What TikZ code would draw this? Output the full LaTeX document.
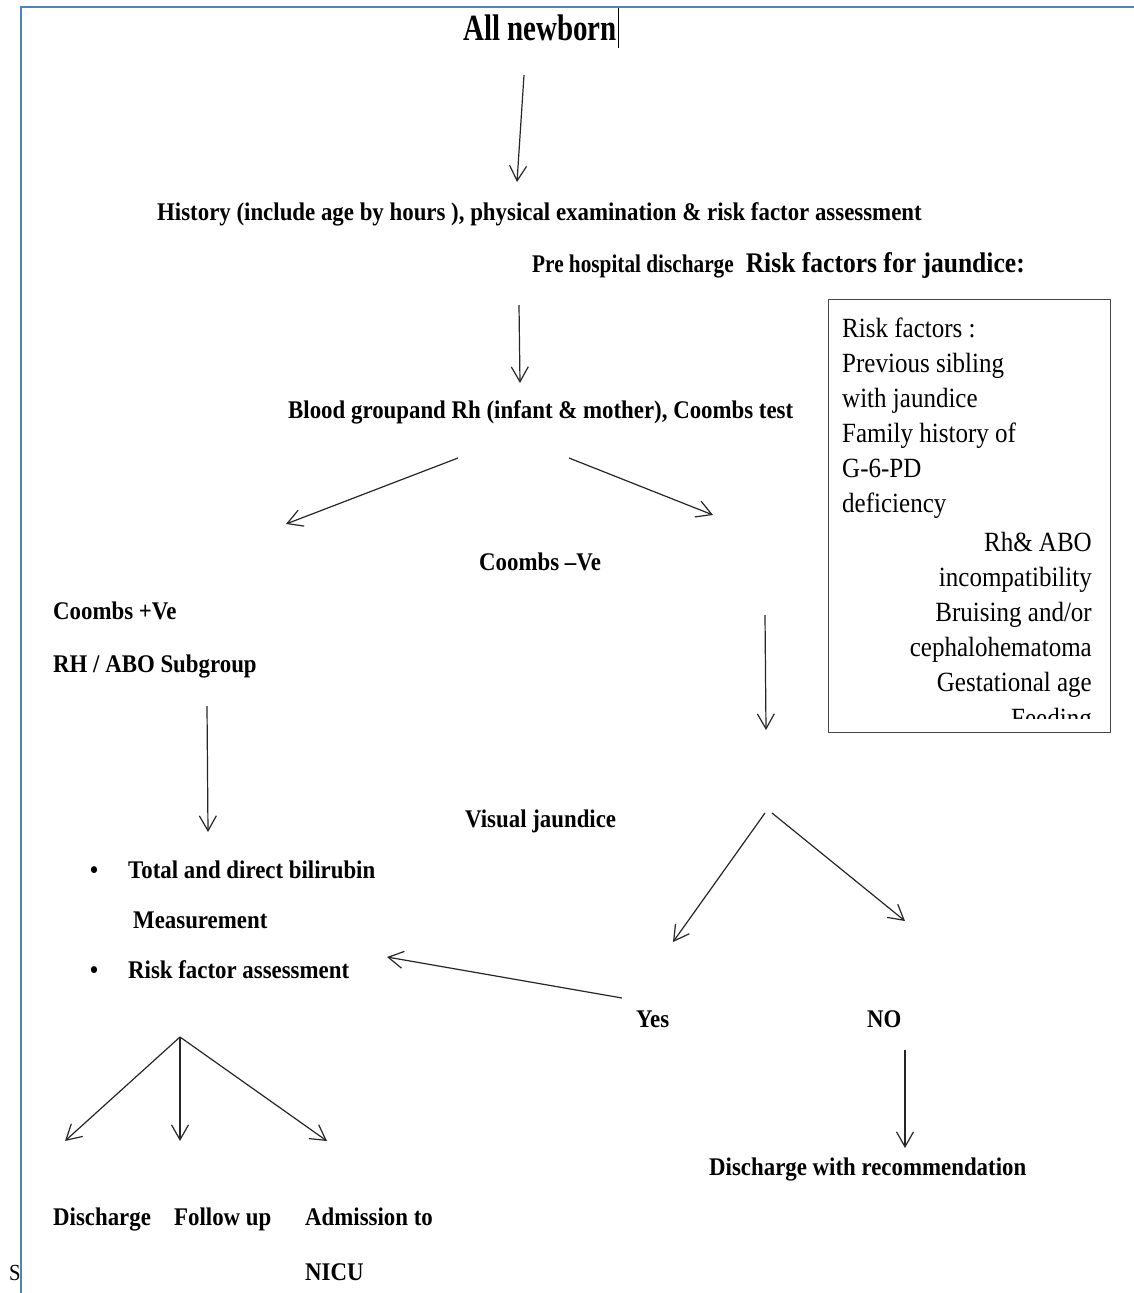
\documentclass[tikz,border=0pt]{standalone}
\usepackage{fontspec}
\setmainfont{Liberation Serif}[FakeStretch=0.9]
\usetikzlibrary{arrows.meta}
\definecolor{framebl}{RGB}{79,129,189}
\definecolor{boxgray}{RGB}{70,70,70}

\begin{document}
\begin{tikzpicture}[x=1pt,y=-1pt,
    txt/.style={inner sep=0pt,anchor=base west,font=\bfseries\fontsize{25.4}{30}\selectfont},
    rf/.style={inner sep=0pt,font=\fontsize{27.8}{33}\selectfont},
    arr/.style={draw=black!85,line width=1.2pt,-{Straight Barb[length=15pt,width=17pt,line width=1.2pt]}}]
    \useasboundingbox (0,0) rectangle (1134,1293);

    % texts of the chart
    \node[txt,font=\bfseries\fontsize{37}{42}\selectfont] (nb) at (463,40) {\scalebox{0.87}[1]{All newborn}};
    \draw[line width=0.8pt] (618,8) -- (618,48);
    \node[txt] (hist) at (157,220) {History (include age by hours ), physical examination \& risk factor assessment};
    \node[txt] (pre) at (532,272) {\scalebox{0.93}[1]{Pre hospital discharge}\hspace{12pt}{\fontsize{28.4}{33}\selectfont Risk factors for jaundice:}};
    \node[txt] (blood) at (288,418) {Blood groupand Rh (infant \& mother), Coombs test};
    \node[txt] (cneg) at (479,570) {Coombs –Ve};
    \node[txt] (cpos) at (53,619) {Coombs +Ve};
    \node[txt] (rh) at (53,672) {RH / ABO Subgroup};
    \node[txt] (vis) at (465,827) {Visual jaundice};
    \node[txt] (b1) at (90,878) {\textbullet};
    \node[txt] (bili) at (128,878) {Total and direct bilirubin};
    \node[txt] (meas) at (133,928) {Measurement};
    \node[txt] (b2) at (90,978) {\textbullet};
    \node[txt] (rfa) at (128,978) {Risk factor assessment};
    \node[txt] (yes) at (636,1027) {Yes};
    \node[txt] (no) at (867,1027) {NO};
    \node[txt] (dwr) at (709,1175) {Discharge with recommendation};
    \node[txt] (dis) at (53,1225) {Discharge};
    \node[txt] (fup) at (174,1225) {Follow up};
    \node[txt] (adm) at (305,1225) {Admission to};
    \node[txt] (nicu) at (305,1280) {NICU};
    \node[txt,font=\fontsize{23}{28}\selectfont] (s) at (9,1280) {S};

    % risk factor box
    \node[draw=boxgray,line width=1.3pt,minimum width=282pt,minimum height=433pt,anchor=north west,inner sep=0pt] (box) at (828,299) {};
    \begin{scope}
        \clip (828,299) rectangle (1110,718);
        \foreach \t [count=\i] in {Risk factors :,Previous sibling,with jaundice,Family history of,G-6-PD,deficiency}
            \node[rf,anchor=base west] (rl\i) at (842,{337+35*(\i-1)}) {\t};
        \foreach \t [count=\i] in {Rh\& ABO,incompatibility,Bruising and/or,cephalohematoma,Gestational age,Feeding}
            \node[rf,anchor=base east] (rr\i) at (1092,{551+35.2*(\i-1)}) {\t};
    \end{scope}

    % arrow ends
    \coordinate (nbout) at (524,75);    \coordinate (histin) at (517,182);
    \coordinate (preout) at (519,305);  \coordinate (bloodin) at (520,383);
    \coordinate (bloodl) at (458,458);  \coordinate (cposin) at (286,524);
    \coordinate (bloodr) at (569,458);  \coordinate (cnegin) at (713,515);
    \coordinate (cnegout) at (765,615); \coordinate (visin) at (766,730);
    \coordinate (rhout) at (207,706);   \coordinate (biliin) at (208,832);
    \coordinate (visl) at (765,813);    \coordinate (yesin) at (673,942);
    \coordinate (visr) at (772,813);    \coordinate (noin) at (905,921);
    \coordinate (yesout) at (622,998);  \coordinate (rfain) at (387,957);
    \coordinate (noout) at (905,1050);  \coordinate (dwrin) at (905,1148);
    \coordinate (fork) at (180,1037);
    \coordinate (disin) at (65,1141);   \coordinate (fupin) at (180,1141);
    \coordinate (admin) at (327,1141);

    \draw[arr] (nbout) -- (histin);
    \draw[arr] (preout) -- (bloodin);
    \draw[arr] (bloodl) -- (cposin);
    \draw[arr] (bloodr) -- (cnegin);
    \draw[arr] (cnegout) -- (visin);
    \draw[arr] (rhout) -- (biliin);
    \draw[arr] (visl) -- (yesin);
    \draw[arr] (visr) -- (noin);
    \draw[arr] (yesout) -- (rfain);
    \draw[arr] (noout) -- (dwrin);
    \draw[arr] (fork) -- (disin);
    \draw[arr] (fork) -- (fupin);
    \draw[arr] (fork) -- (admin);

    % page frame
    \draw[framebl,line width=2.5pt] (21,1293) -- (21,7) -- (1134,7);
\end{tikzpicture}
\end{document}
